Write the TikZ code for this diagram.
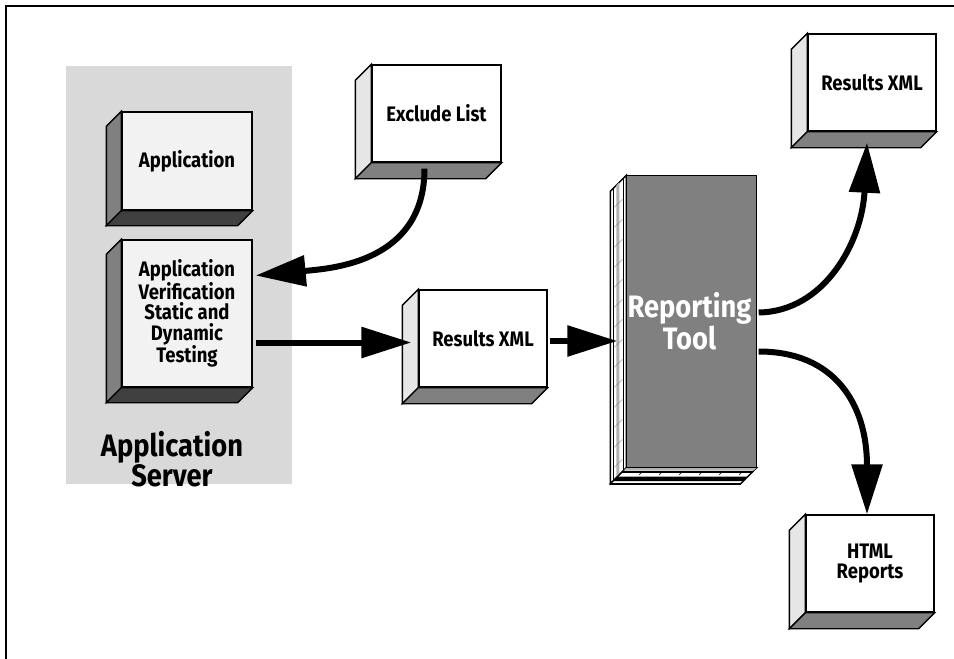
\documentclass[tikz,border=0pt]{standalone}
\usepackage{fontspec}
\setmainfont{Fira Sans}
\newfontfamily\narrowsans[FakeStretch=0.88]{Fira Sans}
\usetikzlibrary{arrows.meta}

\definecolor{serverbg}{HTML}{D9D9D9}
\definecolor{appfront}{HTML}{F2F2F2}
\definecolor{midgray}{HTML}{808080}
\definecolor{darkgray}{HTML}{404040}
\definecolor{lightside}{HTML}{E6E6E6}

% side faces of an extruded box: node name, depth, left colour, bottom colour
\newcommand\boxsides[4]{%
  \filldraw[outline,fill=#3] (#1.north west) -- ++(-#2,#2)
    -- ([shift={(-#2,#2)}]#1.south west) -- (#1.south west) -- cycle;
  \filldraw[outline,fill=#4] (#1.south west) -- (#1.south east)
    -- ++(-#2,#2) -- ([shift={(-#2,#2)}]#1.south west) -- cycle;
}

\begin{document}
\begin{tikzpicture}[x=1pt,y=-1pt,
  outline/.style={draw=black,line width=1.4pt,line join=miter},
  label/.style={font=\narrowsans\bfseries\fontsize{21}{20.5}\selectfont,align=center},
  front/.style={outline,fill=white,inner sep=0pt,label},
  appbox/.style={front,fill=appfront},
  conn/.style={line width=6pt,-{Triangle[length=50pt,width=30pt]}}]

\useasboundingbox (0,0) rectangle (954,659);
\fill[white] (0,0) rectangle (954,659);
\draw[line width=1.5pt] (6,659) -- (6,6) -- (954,6);

% application server area
\fill[serverbg] (66,66) rectangle (292,484);
\node[font=\narrowsans\bfseries\fontsize{31}{28}\selectfont,align=center] (server) at (172,459)
  {Application\\Server};

% boxes (front faces)
\node[appbox,minimum width=130pt,minimum height=98pt] (app) at (187,161) {Application};
\node[appbox,minimum width=130pt,minimum height=147pt] (ver) at (187,313.5)
  {Application\\Verification\\Static and\\Dynamic\\Testing};
\node[front,minimum width=129pt,minimum height=97pt] (excl) at (436.5,113.5) {Exclude List};
\node[front,minimum width=128pt,minimum height=97pt] (resmid) at (483,338.5) {Results XML};
\node[front,fill=midgray,minimum width=129pt,minimum height=291pt] (rep) at (691.5,321.5) {};
\node[front,minimum width=128pt,minimum height=97pt] (restop) at (872,82.5) {Results XML};
\node[front,minimum width=128pt,minimum height=97pt] (html) at (870,563.5) {HTML\\Reports};

% extruded faces
\boxsides{app}{15}{midgray}{darkgray}
\boxsides{ver}{15}{midgray}{darkgray}
\boxsides{excl}{16}{lightside}{midgray}
\boxsides{resmid}{16}{lightside}{midgray}
\boxsides{restop}{16}{lightside}{midgray}
\boxsides{html}{16}{lightside}{midgray}

% reporting tool: paged left side and striped base
\filldraw[outline,fill=white] (rep.north west) -- ++(-16,16)
  -- ([shift={(-16,16)}]rep.south west) -- (rep.south west) -- cycle;
\fill[gray!60] ([shift={(-7,7)}]rep.north west) -- ([shift={(-10,10)}]rep.north west)
  -- ([shift={(-10,10)}]rep.south west) -- ([shift={(-7,7)}]rep.south west) -- cycle;
\foreach \s in {3,13}
  \draw[line width=0.8pt] ([shift={(-\s,\s)}]rep.north west) -- ([shift={(-\s,\s)}]rep.south west);
\foreach \k in {1,...,14}
  \draw[line width=0.4pt,gray] ([shift={(-4,4+20*\k)}]rep.north west) -- ++(-8,8);
\filldraw[outline,fill=white] (rep.south west) -- (rep.south east)
  -- ++(-16,16) -- ([shift={(-16,16)}]rep.south west) -- cycle;
\fill[gray!60] (rep.south west) -- (rep.south east) -- ++(-3,3)
  -- ([shift={(-3,3)}]rep.south west) -- cycle;
\draw[line width=1.8pt] ([shift={(-4,4)}]rep.south west) -- ([shift={(-4,4)}]rep.south east);
\foreach \k in {1,...,6}
  \draw[line width=0.5pt] ([shift={(-4+20*\k,4)}]rep.south west) -- ++(-3,3);
\fill[black] ([shift={(-9,9)}]rep.south west) -- ([shift={(-9,9)}]rep.south east)
  -- ([shift={(-13.5,13.5)}]rep.south east) -- ([shift={(-13.5,13.5)}]rep.south west) -- cycle;
\draw[outline,line width=2pt] ([shift={(-16,16)}]rep.south west) -- ([shift={(-16,16)}]rep.south east);
\filldraw[outline,fill=midgray] (rep.north west) rectangle (rep.south east);
\node[font=\narrowsans\bfseries\fontsize{31}{32}\selectfont,text=white,align=center] (reptext)
  at ([xshift=-2pt]rep.center) {Reporting\\Tool};

% connectors
\draw[conn] ([shift={(-12,6)}]excl.south)
  .. controls ([shift={(-12,100)}]excl.south) and ([shift={(78,-45)}]ver.east)
  .. ([shift={(3,-38)}]ver.east);
\coordinate (v1) at ([shift={(3,29)}]ver.east);
\draw[conn] (v1) -- ([xshift=-7pt]v1 -| resmid.west);
\coordinate (r1) at ([shift={(2,2.5)}]resmid.east);
\draw[conn] (r1) -- ([xshift=-9pt]r1 -| rep.west);
\draw[conn] ([shift={(2,-9)}]rep.east)
  .. controls ([shift={(68,-10)}]rep.east) and ([shift={(-10,110)}]restop.south)
  .. ([shift={(-5,11)}]restop.south);
\draw[conn] ([shift={(2,30)}]rep.east)
  .. controls ([shift={(78,30)}]rep.east) and ([shift={(-3,-110)}]html.north)
  .. ([shift={(-3,0)}]html.north);

\end{tikzpicture}
\end{document}
